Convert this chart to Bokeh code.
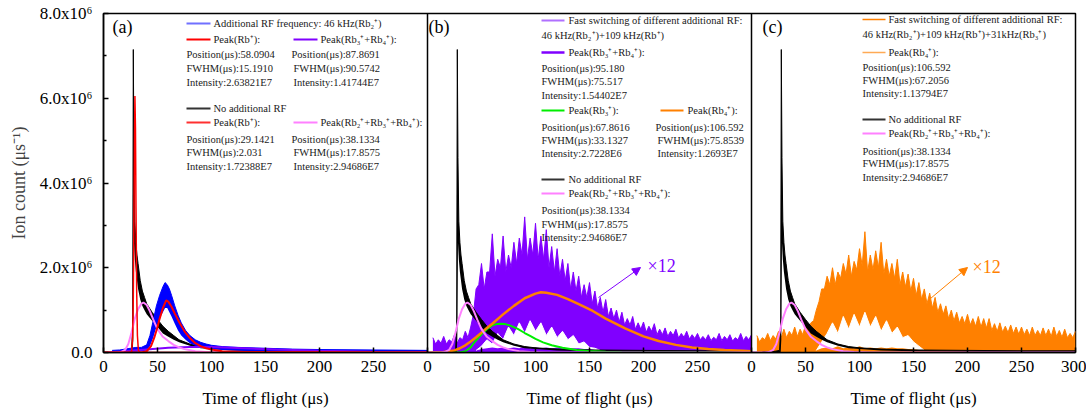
from bokeh.plotting import figure
from bokeh.layouts import column
from bokeh.models import Range1d, FixedTicker, Span, Label, Arrow, NormalHead
from bokeh.embed import file_html
from bokeh.resources import INLINE

# ---------------- data (time in µs, counts in units of 1e6 /µs) ----------------
# "No additional RF" raw trace (same in all three panels): lower / upper envelope of the noisy band
t_black = [10, 20, 26, 27, 27.6, 28.2, 29, 30, 31, 32, 34, 36, 38, 40, 45, 50, 55, 60, 65, 70, 80, 90, 100, 120, 150, 200, 250, 300]
black_hi_M = [0.01, 0.02, 0.05, 0.6, 7.15, 4.6, 3.1, 2.6, 2.3, 2.1, 1.7, 1.45, 1.3, 1.15, 0.95, 0.78, 0.62, 0.5, 0.4, 0.3, 0.2, 0.14, 0.11, 0.08, 0.06, 0.05, 0.04, 0.04]
black_lo_M = [0, 0, 0, 0, 0.3, 2.6, 2.2, 1.9, 1.7, 1.5, 1.25, 1.1, 1.0, 0.9, 0.75, 0.6, 0.45, 0.37, 0.3, 0.24, 0.16, 0.1, 0.08, 0.05, 0.03, 0.02, 0.01, 0.01]

# Panel (a): additional RF 46 kHz raw trace
t_blue = [8, 15, 20, 25, 30, 35, 40, 43, 46, 49, 52, 55, 57, 59, 61, 63, 66, 69, 72, 76, 80, 85, 90, 95, 100, 110, 125, 150, 175, 200, 250, 300]
blue_hi_M = [0.05, 0.06, 0.08, 0.1, 0.12, 0.12, 0.18, 0.4, 0.75, 1.1, 1.35, 1.55, 1.65, 1.6, 1.5, 1.35, 1.1, 0.88, 0.7, 0.52, 0.4, 0.3, 0.24, 0.2, 0.17, 0.14, 0.12, 0.1, 0.08, 0.07, 0.06, 0.05]
blue_lo_M = [0, 0.01, 0.01, 0.02, 0.02, 0.03, 0.05, 0.15, 0.35, 0.6, 0.8, 0.95, 1.05, 1.05, 0.95, 0.85, 0.68, 0.52, 0.4, 0.3, 0.22, 0.16, 0.12, 0.1, 0.08, 0.06, 0.04, 0.03, 0.02, 0.02, 0.01, 0.01]

# Panel (a) fitted peaks
t_red_nar = [0, 24, 26, 27, 27.6, 28.2, 28.7, 29.1, 29.6, 30.1, 30.7, 31.4, 32.3, 34, 300]
red_nar_M = [0, 0, 0.02, 0.35, 1.3, 3.2, 5.0, 6.05, 5.3, 3.4, 1.5, 0.4, 0.05, 0, 0]
t_red_wide = [0, 35, 40, 44, 47, 50, 52, 55, 58, 60, 63, 66, 70, 75, 80, 85, 90, 95, 100, 110, 130, 300]
red_wide_M = [0, 0, 0.03, 0.15, 0.35, 0.6, 0.8, 1.05, 1.23, 1.2, 1.08, 0.92, 0.72, 0.5, 0.34, 0.22, 0.15, 0.1, 0.07, 0.03, 0.01, 0]
t_purp_fit = [5, 15, 25, 40, 60, 80, 100, 130, 160, 200, 250, 300]
purp_fit_M = [0, 0.02, 0.04, 0.07, 0.11, 0.13, 0.13, 0.1, 0.07, 0.04, 0.02, 0.01]

# Fit Peak(Rb2+ + Rb3+ + Rb4+) without additional RF (all panels)
t_pink = [0, 12, 16, 20, 23, 26, 29, 32, 35, 37, 40, 43, 46, 50, 55, 60, 65, 70, 75, 85, 95, 110, 300]
pink_M = [0, 0, 0.01, 0.06, 0.2, 0.48, 0.8, 1.02, 1.15, 1.18, 1.12, 0.97, 0.78, 0.55, 0.37, 0.27, 0.18, 0.12, 0.08, 0.03, 0.01, 0, 0]

# Panel (b): fast switching 46 kHz + 109 kHz raw trace (x12): spike tops at 5, 10, ... 300 and dips between them
purple_peaks_M = [0.35, 0.3, 0.38, 0.3, 0.42, 0.35, 0.5, 0.6, 1.5, 2.1, 1.9, 2.8, 2.2, 2.75, 2.3, 2.6, 2.7, 3.2, 2.7, 3.05,
                  2.75, 2.9, 2.5, 2.45, 2.2, 2.1, 1.9, 1.8, 1.6, 1.65, 1.45, 1.3, 1.25, 1.05, 1.0, 0.95, 0.8, 0.85, 0.7, 0.72,
                  0.62, 0.68, 0.55, 0.58, 0.5, 0.55, 0.45, 0.5, 0.42, 0.45, 0.38, 0.42, 0.36, 0.45, 0.38, 0.42, 0.35, 0.45, 0.38, 0.42]
purple_dips_M = [0.2, 0.22, 0.2, 0.25, 0.22, 0.3, 0.35, 0.9, 1.6, 1.5, 1.9, 1.8, 2.0, 1.9, 2.0, 2.1, 2.3, 2.2, 2.3, 2.2,
                 2.2, 2.0, 1.9, 1.8, 1.7, 1.5, 1.45, 1.3, 1.3, 1.15, 1.05, 0.95, 0.85, 0.8, 0.72, 0.65, 0.65, 0.55, 0.55, 0.48,
                 0.5, 0.42, 0.42, 0.38, 0.4, 0.34, 0.36, 0.32, 0.33, 0.3, 0.3, 0.28, 0.3, 0.28, 0.3, 0.27, 0.3, 0.28, 0.3]
# white gaps below the dense body of the purple trace
t_gap_b = [45, 50, 55, 60, 65, 70, 75, 80, 85, 90, 95, 100, 105, 110, 115, 120, 125, 130, 135, 140, 145, 150, 155, 160]
gap_hi_b_M = [0.05, 0.15, 0.3, 0.2, 0.45, 0.3, 0.6, 0.4, 0.7, 0.45, 0.75, 0.5, 0.7, 0.4, 0.6, 0.35, 0.5, 0.3, 0.4, 0.2, 0.25, 0.12, 0.1, 0.05]
gap_lo_b_M = [0.05, 0.08, 0.1, 0.12, 0.1, 0.12, 0.1, 0.12, 0.1, 0.15, 0.1, 0.12, 0.1, 0.12, 0.1, 0.12, 0.1, 0.1, 0.1, 0.1, 0.08, 0.08, 0.06, 0.05]

t_green = [0, 30, 35, 40, 44, 48, 52, 56, 60, 64, 68, 72, 76, 80, 84, 90, 95, 100, 107, 115, 125, 138, 150, 165, 180, 300]
green_M = [0, 0, 0.03, 0.12, 0.26, 0.37, 0.48, 0.57, 0.64, 0.67, 0.68, 0.67, 0.64, 0.6, 0.55, 0.46, 0.39, 0.32, 0.24, 0.17, 0.11, 0.06, 0.035, 0.015, 0.005, 0]
t_orange_fit = [0, 15, 25, 30, 35, 40, 45, 50, 55, 60, 70, 80, 90, 100, 105, 110, 120, 130, 140, 153, 165, 183, 200, 214, 230, 245, 260, 275, 292, 300]
orange_fit_M = [0, 0.01, 0.05, 0.1, 0.17, 0.26, 0.36, 0.47, 0.58, 0.68, 0.9, 1.1, 1.28, 1.39, 1.42, 1.41, 1.36, 1.26, 1.14, 0.98, 0.8, 0.57, 0.38, 0.27, 0.18, 0.12, 0.08, 0.06, 0.04, 0.03]

# Panel (c): fast switching 46 + 109 + 31 kHz raw trace (x12)
orange_peaks_M = [0.4, 0.35, 0.45, 0.4, 0.5, 0.55, 0.5, 0.6, 0.55, 0.65, 0.7, 1.0, 1.5, 1.8, 2.0, 1.9, 2.1, 2.3, 2.15, 2.45,
                  2.85, 2.3, 2.4, 2.6, 2.2, 2.1, 2.2, 1.9, 1.85, 1.75, 1.65, 1.5, 1.4, 1.3, 1.15, 1.1, 1.0, 0.95, 0.85, 0.9,
                  0.8, 0.85, 0.8, 0.8, 0.68, 0.7, 0.62, 0.65, 0.6, 0.6, 0.55, 0.6, 0.52, 0.58, 0.55, 0.6, 0.52, 0.55, 0.45, 0.5]
orange_dips_M = [0.25, 0.3, 0.28, 0.32, 0.35, 0.35, 0.4, 0.38, 0.42, 0.5, 0.75, 1.2, 1.5, 1.6, 1.6, 1.75, 1.85, 1.8, 1.95, 2.05,
                 1.9, 1.95, 2.0, 1.85, 1.8, 1.75, 1.6, 1.55, 1.45, 1.35, 1.25, 1.15, 1.05, 0.95, 0.9, 0.8, 0.75, 0.7, 0.68, 0.65,
                 0.62, 0.6, 0.58, 0.52, 0.5, 0.48, 0.47, 0.45, 0.43, 0.42, 0.4, 0.4, 0.4, 0.4, 0.38, 0.38, 0.36, 0.35, 0.35]
t_gap_c = [60, 65, 70, 75, 80, 85, 90, 95, 100, 105, 110, 115, 120, 125, 130, 135, 140, 145, 150, 155, 160]
gap_hi_c_M = [0.05, 0.25, 0.45, 0.7, 0.45, 0.85, 0.55, 0.9, 0.6, 0.95, 0.6, 0.85, 0.5, 0.75, 0.45, 0.6, 0.35, 0.4, 0.25, 0.15, 0.05]
gap_lo_c_M = [0.05, 0.1, 0.12, 0.1, 0.15, 0.1, 0.12, 0.1, 0.15, 0.1, 0.12, 0.1, 0.12, 0.1, 0.12, 0.1, 0.1, 0.08, 0.08, 0.06, 0.05]

x_ticks = [0, 50, 100, 150, 200, 250, 300]
y_ticks = [0, 2000000, 4000000, 6000000, 8000000]
y_tick_labels = ["0.0", "2.0x10\u2076", "4.0x10\u2076", "6.0x10\u2076", "8.0x10\u2076"]
PANEL_W = 300  # µs per panel
STEP = 2.5     # µs between spike tops and dips of the x12 traces

FONT = "Liberation Serif"

# ---------------- figure ----------------
p = figure(frame_width=972, frame_height=339, x_range=Range1d(0, 3 * PANEL_W), y_range=Range1d(0, 8e6),
           output_backend="svg", toolbar_location=None,
           min_border_left=103, min_border_right=11, min_border_top=13, min_border_bottom=34)
p.xgrid.visible = False
p.ygrid.visible = False
p.outline_line_color = "black"
p.outline_line_width = 1.5
p.background_fill_color = "white"
p.border_fill_color = "white"

# pixel-to-data helpers (for annotation placement only)
def dx(px):
    return (px - 103) / 1.08

def dy(py):
    return (352 - py) * 8e6 / 339

ticks_all = []
overrides = {}
for k in range(3):
    for t in x_ticks:
        v = t + k * PANEL_W
        if v not in ticks_all:
            ticks_all.append(v)
        overrides[v] = str(t)
overrides[300] = "0"
overrides[600] = "0"
overrides[900] = "300"

xa = p.xaxis[0]
xa.ticker = FixedTicker(ticks=ticks_all, minor_ticks=[])
xa.major_label_overrides = overrides
ya = p.yaxis[0]
ya.ticker = FixedTicker(ticks=y_ticks, minor_ticks=[1000000, 3000000, 5000000, 7000000])
ya.major_label_overrides = {v: s for v, s in zip(y_ticks, y_tick_labels)}
ya.axis_label = "Ion count (\u03bcs\u207b\u00b9)"
ya.axis_label_text_font = FONT
ya.axis_label_text_font_style = "normal"
ya.axis_label_text_font_size = "18px"
ya.axis_label_standoff = 8
for ax in (xa, ya):
    ax.axis_line_width = 1.5
    ax.major_tick_line_width = 1.5
    ax.minor_tick_line_width = 1.5
    ax.major_tick_in = 5
    ax.major_tick_out = 0
    ax.minor_tick_in = 3
    ax.minor_tick_out = 0
    ax.major_label_text_font = FONT
    ax.major_label_text_font_size = "17px"
    ax.major_label_text_color = "black"
xa.major_label_standoff = 8
ya.major_label_standoff = 11

M = 1e6

def band(t, lo, hi, panel, color):
    x = [v + panel * PANEL_W for v in t]
    p.varea(x=x, y1=[v * M for v in lo], y2=[v * M for v in hi], fill_color=color)
    p.line(x, [v * M for v in hi], line_color=color, line_width=1)

def spiky(peaks, dips, panel, color):
    t, hi = [], []
    for i, v in enumerate(peaks):
        t.append(5 + 2 * STEP * i)
        hi.append(v)
        if i < len(dips):
            t.append(5 + 2 * STEP * i + STEP)
            hi.append(dips[i])
    band(t, [0] * len(t), hi, panel, color)

def curve(t, vals, panel, color, w=2):
    x = [v + panel * PANEL_W for v in t]
    p.line(x, [v * M for v in vals], line_color=color, line_width=w)

# panel a
band(t_black, black_lo_M, black_hi_M, 0, "black")
band(t_blue, blue_lo_M, blue_hi_M, 0, "#0000ff")
curve(t_purp_fit, purp_fit_M, 0, "#8000ff")
curve(t_pink, pink_M, 0, "#ff80ff")
curve(t_red_wide, red_wide_M, 0, "#ff0000")
curve(t_red_nar, red_nar_M, 0, "#ff0000", 1.5)
# panel b
spiky(purple_peaks_M, purple_dips_M, 1, "#8000ff")
band(t_gap_b, gap_lo_b_M, gap_hi_b_M, 1, "white")
band(t_black, black_lo_M, black_hi_M, 1, "black")
curve(t_green, green_M, 1, "#00ee00")
curve(t_orange_fit, orange_fit_M, 1, "#ff8000", 2.5)
curve(t_pink, pink_M, 1, "#ff80ff")
# panel c
spiky(orange_peaks_M, orange_dips_M, 2, "#ff8000")
band(t_gap_c, gap_lo_c_M, gap_hi_c_M, 2, "white")
band(t_black, black_lo_M, black_hi_M, 2, "black")
curve(t_pink, pink_M, 2, "#ff80ff")

for loc in (PANEL_W, 2 * PANEL_W):
    p.add_layout(Span(location=loc, dimension="height", line_color="black", line_width=1.5))

# ---------------- annotations ----------------
TXT = "#1a1a1a"

def txt(px, py, s, size="10.5px", color=TXT, align="left"):
    p.add_layout(Label(x=dx(px), y=dy(py), text=s, text_font=FONT, text_font_size=size,
                       text_color=color, text_align=align, text_baseline="middle"))

def sample(px1, px2, py, color, w=2):
    p.add_layout(Arrow(end=None, x_start=dx(px1), y_start=dy(py), x_end=dx(px2), y_end=dy(py),
                       line_color=color, line_width=w))

# panel labels
txt(112, 26, "(a)", "18px", "black")
txt(428, 26, "(b)", "18px", "black")
txt(762, 26, "(c)", "18px", "black")

# legend (a)
sample(186, 210, 23, "#7070ff")
txt(213, 23, "Additional RF frequency: 46 kHz(Rb\u2082\u207a)")
sample(186, 210, 39, "#ff0000")
txt(213, 39, "Peak(Rb\u207a):")
sample(293, 317, 39, "#8000ff")
txt(320, 39, "Peak(Rb\u2083\u207a+Rb\u2084\u207a):")
txt(186, 54, "Position(\u03bcs):58.0904")
txt(186, 68, "FWHM(\u03bcs):15.1910")
txt(186, 82, "Intensity:2.63821E7")
txt(291, 54, "Position(\u03bcs):87.8691")
txt(293, 68, "FWHM(\u03bcs):90.5742")
txt(293, 82, "Intensity:1.41744E7")
sample(186, 210, 108, "#333333")
txt(213, 108, "No additional RF")
sample(186, 210, 122, "#ff3030")
txt(213, 122, "Peak(Rb\u207a):")
sample(293, 317, 122, "#ff80ff")
txt(320, 122, "Peak(Rb\u2082\u207a+Rb\u2083\u207a+Rb\u2084\u207a):")
txt(186, 139, "Position(\u03bcs):29.1421")
txt(186, 152, "FWHM(\u03bcs):2.031")
txt(186, 166, "Intensity:1.72388E7")
txt(291, 139, "Position(\u03bcs):38.1334")
txt(293, 152, "FWHM(\u03bcs):17.8575")
txt(293, 166, "Intensity:2.94686E7")

# legend (b)
sample(541, 564, 20, "#b070ff")
txt(568, 20, "Fast switching of different additional RF:")
txt(541, 35, "46 kHz(Rb\u2082\u207a)+109 kHz(Rb\u207a)")
sample(541, 564, 52, "#8000ff", 2.5)
txt(568, 52, "Peak(Rb\u2083\u207a+Rb\u2084\u207a):")
txt(541, 68, "Position(\u03bcs):95.180")
txt(541, 81, "FWHM(\u03bcs):75.517")
txt(541, 95, "Intensity:1.54402E7")
sample(541, 564, 110, "#00ee00")
txt(568, 110, "Peak(Rb\u2083\u207a):")
sample(660, 683, 110, "#ff8000")
txt(687, 110, "Peak(Rb\u2084\u207a):")
txt(541, 127, "Position(\u03bcs):67.8616")
txt(541, 140, "FWHM(\u03bcs):33.1327")
txt(541, 153, "Intensity:2.7228E6")
txt(655, 127, "Position(\u03bcs):106.592")
txt(657, 140, "FWHM(\u03bcs):75.8539")
txt(657, 153, "Intensity:1.2693E7")
sample(541, 564, 179, "#333333")
txt(568, 179, "No additional RF")
sample(541, 564, 193, "#ff80ff")
txt(568, 193, "Peak(Rb\u2082\u207a+Rb\u2083\u207a+Rb\u2084\u207a):")
txt(541, 210, "Position(\u03bcs):38.1334")
txt(541, 224, "FWHM(\u03bcs):17.8575")
txt(541, 237, "Intensity:2.94686E7")

# legend (c)
sample(862, 885, 19, "#ff8000", 1.5)
txt(888, 19, "Fast switching of different additional RF:")
txt(862, 34, "46 kHz(Rb\u2082\u207a)+109 kHz(Rb\u207a)+31kHz(Rb\u2083\u207a)")
sample(862, 885, 52, "#ffaa55", 1.5)
txt(888, 52, "Peak(Rb\u2084\u207a):")
txt(862, 67, "Position(\u03bcs):106.592")
txt(862, 80, "FWHM(\u03bcs):67.2056")
txt(862, 93, "Intensity:1.13794E7")
sample(862, 885, 119, "#333333")
txt(888, 119, "No additional RF")
sample(862, 885, 133, "#ff80ff")
txt(888, 133, "Peak(Rb\u2082\u207a+Rb\u2083\u207a+Rb\u2084\u207a):")
txt(862, 151, "Position(\u03bcs):38.1334")
txt(862, 163, "FWHM(\u03bcs):17.8575")
txt(862, 177, "Intensity:2.94686E7")

# x12 arrows
p.add_layout(Arrow(x_start=dx(598), y_start=dy(297), x_end=dx(640), y_end=dy(267),
                   line_color="#8000ff", line_width=1,
                   end=NormalHead(size=8, fill_color="#8000ff", line_color="#8000ff")))
txt(647, 265, "\u00d712", "18px", "#8000ff")
p.add_layout(Arrow(x_start=dx(930), y_start=dy(298), x_end=dx(967), y_end=dy(267),
                   line_color="#ff8000", line_width=1,
                   end=NormalHead(size=8, fill_color="#ff8000", line_color="#ff8000")))
txt(972, 266, "\u00d712", "18px", "#ff8000")

# strip below the axes carrying the three x-axis titles
p2 = figure(frame_width=972, frame_height=28, x_range=Range1d(0, 3 * PANEL_W), y_range=Range1d(0, 28),
            output_backend="svg", toolbar_location=None, x_axis_location=None, y_axis_location=None,
            min_border_left=103, min_border_right=11, min_border_top=0, min_border_bottom=0)
p2.outline_line_color = None
p2.xgrid.visible = False
p2.ygrid.visible = False
for k in range(3):
    p2.add_layout(Label(x=PANEL_W * k + PANEL_W / 2, y=16, text="Time of flight (\u03bcs)", text_font=FONT,
                        text_font_size="17px", text_color="black", text_align="center", text_baseline="middle"))

open("out.html", "w").write(file_html(column(p, p2), INLINE))
